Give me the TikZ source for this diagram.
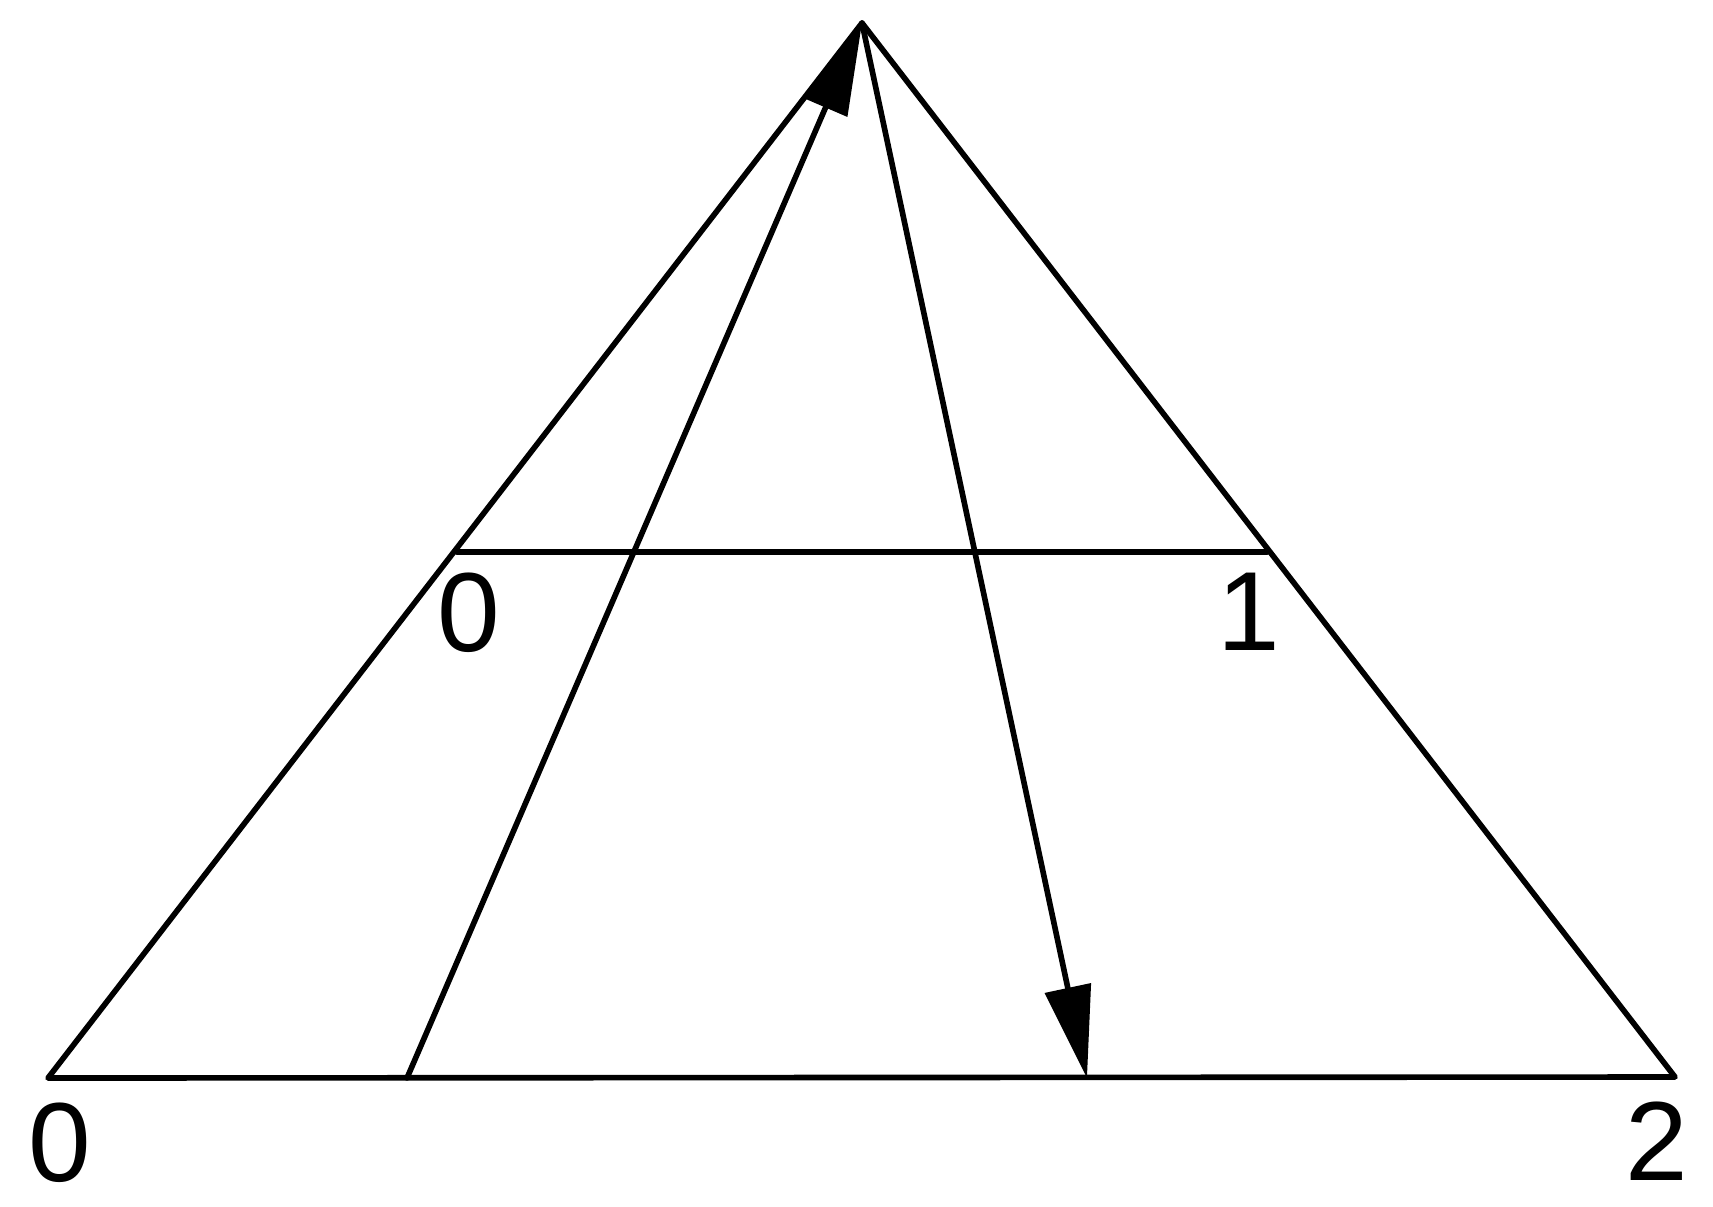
\documentclass[tikz,border=0pt]{standalone}
\usepackage{fontspec}
\setmainfont{Liberation Sans}
\usetikzlibrary{arrows.meta}
\begin{document}
\begin{tikzpicture}[x=0.01cm,y=-0.01cm,
  edge/.style={line width=1.6pt, line cap=round, line join=round},
  ray/.style={edge, -{Triangle[length=0.92cm,width=0.46cm]}},
  lbl/.style={inner sep=0pt, anchor=base, font=\fontsize{32}{38}\selectfont}]
\useasboundingbox (0,0) rectangle (1713,1206);
\coordinate (A) at (862,23);
\coordinate (BL) at (48,1078);
\coordinate (BR) at (1675,1077);
\coordinate (ML) at (457,552);
\coordinate (MR) at (1267,552);
\coordinate (S) at (407,1078);
\coordinate (T) at (1087,1078);
\draw[edge] (BL) -- (A) -- (BR) -- cycle;
\draw[edge] (ML) -- (MR);
\draw[ray] (S) -- (A);
\draw[ray] (A) -- (T);
\node[lbl] (l0b) at (60,1181) {0};
\node[lbl] (l2b) at (1657,1180) {2};
\node[lbl] (l0m) at (469,651) {0};
\node[lbl] (l1m) at (1249,650) {1};
\end{tikzpicture}
\end{document}
